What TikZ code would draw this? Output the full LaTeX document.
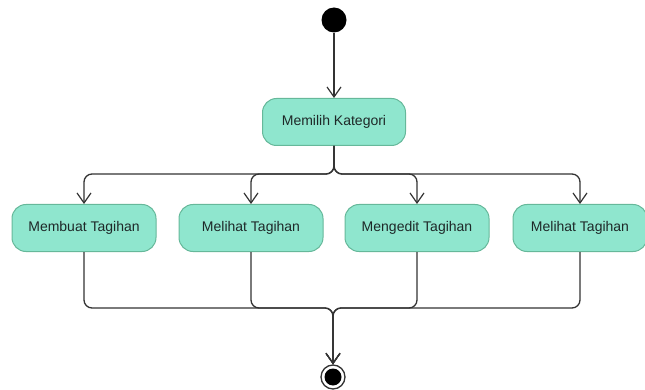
\documentclass[tikz,border=0pt]{standalone}
\usepackage{fontspec}
\setmainfont{Liberation Sans}
\usetikzlibrary{arrows.meta}
\definecolor{mint}{RGB}{143,230,206}
\definecolor{mintborder}{RGB}{102,184,154}
\definecolor{linec}{RGB}{51,51,51}
\definecolor{txt}{RGB}{30,40,40}
\tikzset{
  act/.style={draw=mintborder, fill=mint, line width=1pt, rounded corners=14pt,
    minimum width=144pt, minimum height=47pt, inner sep=0pt, text=txt,
    font=\fontsize{14}{16}\selectfont},
  flow/.style={draw=linec, line width=1.3pt, rounded corners=8pt,
    -{Straight Barb[length=10pt,width=14pt,line width=1.2pt]}},
}
\begin{document}
\begin{tikzpicture}[x=1pt,y=-1pt]
\useasboundingbox (0,0) rectangle (645,390);
\node[circle, fill=black, minimum size=25pt, inner sep=0pt] (start) at (334,20) {};
\node[act, minimum width=143pt] (mk) at (334,122) {Memilih Kategori};
\node[act] (b1) at (84,228) {Membuat Tagihan};
\node[act] (b2) at (251,228) {Melihat Tagihan};
\node[act] (b3) at (417,228) {Mengedit Tagihan};
\node[act, minimum width=134pt] (b4) at (580,228) {Melihat Tagihan};
\node[circle, draw=linec, fill=white, line width=1.3pt, minimum size=24pt, inner sep=0pt] (end) at (333,377) {};
\fill[black] (end.center) circle (8.5pt);
\coordinate (split) at (334,174);
\coordinate (join) at (333,308);
\draw[flow] (start) -- (mk);
\draw[flow] (mk.south) -- (split) -| (b1.north);
\draw[flow] (mk.south) -- (split) -| (b2.north);
\draw[flow] (mk.south) -- (split) -| (b3.north);
\draw[flow] (mk.south) -- (split) -| (b4.north);
\draw[flow] (b1.south) |- (join) -- (end.north);
\draw[flow] (b2.south) |- (join) -- (end.north);
\draw[flow] (b3.south) |- (join) -- (end.north);
\draw[flow] (b4.south) |- (join) -- (end.north);
\end{tikzpicture}
\end{document}
